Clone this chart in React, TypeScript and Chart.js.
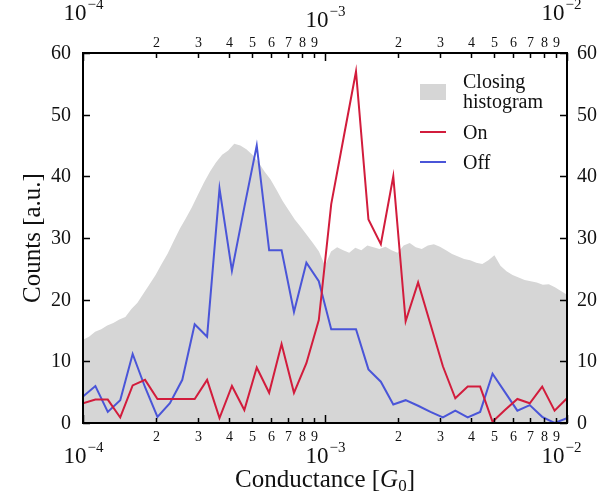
import { useEffect, useRef } from "react";
import { Chart, registerables } from "chart.js";

Chart.register(...registerables);

// Conductance sampling of the on/off traces (G0), log-spaced from 1e-4 to 1e-2
const LINE_G = [
  1.0e-4, 1.125e-4, 1.266e-4, 1.425e-4, 1.604e-4, 1.805e-4, 2.031e-4, 2.286e-4,
  2.572e-4, 2.894e-4, 3.257e-4, 3.665e-4, 4.125e-4, 4.642e-4, 5.223e-4, 5.878e-4,
  6.615e-4, 7.444e-4, 8.377e-4, 9.427e-4, 1.061e-3, 1.194e-3, 1.343e-3, 1.512e-3,
  1.701e-3, 1.915e-3, 2.154e-3, 2.425e-3, 2.728e-3, 3.07e-3, 3.455e-3, 3.888e-3,
  4.376e-3, 4.924e-3, 5.541e-3, 6.236e-3, 7.017e-3, 7.897e-3, 8.886e-3, 1.0e-2,
];

const ON_COUNTS = [
  3.2, 3.8, 3.8, 0.9, 6.1, 7.0, 3.9, 3.9, 3.9, 3.9, 7.0, 0.8, 6.0, 2.1, 9.0, 4.9,
  12.8, 4.9, 9.7, 16.7, 35.5, 46.3, 57, 33, 29, 40, 16.5, 22.8, 16, 9.2, 4.0, 5.9,
  5.9, 0.2, 2.1, 3.9, 3.2, 5.9, 2.0, 4.0,
];

const OFF_COUNTS = [
  4.3, 6.0, 1.8, 3.7, 11.2, 5.8, 1.0, 3.2, 7.0, 16.0, 14.0, 38, 24.7, 35, 45, 28,
  28, 18, 26, 23, 15.2, 15.2, 15.2, 8.7, 6.7, 3.0, 3.7, 2.8, 1.8, 0.9, 2.0, 0.9,
  1.8, 8.0, 5.0, 2.0, 2.9, 1.0, 0.0, 0.8,
];

// Closing histogram bins (40 per decade)
const HIST_G = [
  1.0e-4, 1.059e-4, 1.122e-4, 1.189e-4, 1.259e-4, 1.334e-4, 1.413e-4, 1.496e-4,
  1.585e-4, 1.679e-4, 1.778e-4, 1.884e-4, 1.995e-4, 2.113e-4, 2.239e-4, 2.371e-4,
  2.512e-4, 2.661e-4, 2.818e-4, 2.985e-4, 3.162e-4, 3.35e-4, 3.548e-4, 3.758e-4,
  3.981e-4, 4.217e-4, 4.467e-4, 4.732e-4, 5.012e-4, 5.309e-4, 5.623e-4, 5.957e-4,
  6.31e-4, 6.683e-4, 7.079e-4, 7.499e-4, 7.943e-4, 8.414e-4, 8.913e-4, 9.441e-4,
  1.0e-3, 1.059e-3, 1.122e-3, 1.189e-3, 1.259e-3, 1.334e-3, 1.413e-3, 1.496e-3,
  1.585e-3, 1.679e-3, 1.778e-3, 1.884e-3, 1.995e-3, 2.113e-3, 2.239e-3, 2.371e-3,
  2.512e-3, 2.661e-3, 2.818e-3, 2.985e-3, 3.162e-3, 3.35e-3, 3.548e-3, 3.758e-3,
  3.981e-3, 4.217e-3, 4.467e-3, 4.732e-3, 5.012e-3, 5.309e-3, 5.623e-3, 5.957e-3,
  6.31e-3, 6.683e-3, 7.079e-3, 7.499e-3, 7.943e-3, 8.414e-3, 8.913e-3, 9.441e-3,
  1.0e-2,
];

const HIST_COUNTS = [
  13.5, 14, 14.8, 15.2, 15.8, 16.2, 16.8, 17.2, 18.5, 19.5, 21, 22.5, 24, 25.8,
  27.5, 29.5, 31.5, 33.2, 35, 37, 39, 40.8, 42.3, 43.5, 44.2, 45.3, 45, 44.4, 43.5,
  42.3, 40.8, 39.5, 37.8, 36, 34.5, 33, 31.8, 30.5, 29.2, 27.8, 25.5, 27.8, 28.5,
  28, 27.6, 28.4, 28, 28.8, 28.5, 28.2, 28.6, 28, 27.6, 28.8, 29.2, 28.5, 28.2,
  28.8, 29, 28.6, 28, 27.4, 27, 26.6, 26.4, 26, 25.8, 26.4, 27.2, 25.5, 24.6, 24,
  23.6, 23.2, 23, 22.8, 22.4, 22.5, 22, 21.4, 20.8,
];

const Y_TICKS = [0, 10, 20, 30, 40, 50, 60];
const DECADES = [-4, -3, -2];
const MINOR_MULTIPLIERS = [2, 3, 4, 5, 6, 7, 8, 9];

const LEGEND_ITEMS = [
  { kind: "box", lines: ["Closing", "histogram"] },
  { kind: "line", lines: ["On"] },
  { kind: "line", lines: ["Off"] },
];

const SERIF = '"Liberation Serif", "DejaVu Serif", serif';
const HIST_COLOR = "#d6d6d6";
const ON_COLOR = "#d21c3c";
const OFF_COLOR = "#4a55d8";

// "10" with a raised negative exponent, centred as a whole on cx
function drawPower(
  ctx: CanvasRenderingContext2D,
  cx: number,
  baseline: number,
  exp: number
) {
  const base = "10";
  const sup = "\u2212" + String(Math.abs(exp));
  ctx.font = `23px ${SERIF}`;
  const wBase = ctx.measureText(base).width;
  ctx.font = `15px ${SERIF}`;
  const wSup = ctx.measureText(sup).width;
  const x0 = cx - (wBase + wSup + 1) / 2;
  ctx.textAlign = "left";
  ctx.textBaseline = "alphabetic";
  ctx.font = `23px ${SERIF}`;
  ctx.fillText(base, x0, baseline);
  ctx.font = `15px ${SERIF}`;
  ctx.fillText(sup, x0 + wBase + 1, baseline - 11);
}

const framePlugin = {
  id: "frameAxes",
  afterDatasetsDraw(chart: Chart) {
    const ctx = chart.ctx;
    const { left, right, top, bottom } = chart.chartArea;
    const xs = chart.scales.x;
    const ys = chart.scales.y;
    ctx.save();
    ctx.strokeStyle = "#000";
    ctx.fillStyle = "#111";
    ctx.lineWidth = 2;
    ctx.strokeRect(left, top, right - left, bottom - top);

    // x ticks (bottom and top, pointing inward)
    ctx.lineWidth = 1.5;
    const xTick = (v: number, len: number) => {
      const px = Math.round(xs.getPixelForValue(v)) + 0.5;
      ctx.beginPath();
      ctx.moveTo(px, bottom);
      ctx.lineTo(px, bottom - len);
      ctx.moveTo(px, top);
      ctx.lineTo(px, top + len);
      ctx.stroke();
      return px;
    };
    const topBaselines = [20, 27, 20];
    DECADES.forEach((d, i) => {
      const v = Math.pow(10, d);
      const px = xTick(v, 8);
      const cx = i === DECADES.length - 1 ? px - 6 : px;
      drawPower(ctx, cx, 463, d);
      drawPower(ctx, cx, topBaselines[i], d);
    });
    DECADES.slice(0, -1).forEach((d) => {
      MINOR_MULTIPLIERS.forEach((m) => {
        const v = m * Math.pow(10, d);
        const px = xTick(v, 5);
        ctx.font = `14px ${SERIF}`;
        ctx.textAlign = "center";
        ctx.textBaseline = "alphabetic";
        ctx.fillText(String(m), px, 441);
        ctx.fillText(String(m), px, 47);
      });
    });

    // y ticks (left and right, pointing inward)
    ctx.font = `20px ${SERIF}`;
    ctx.textBaseline = "middle";
    Y_TICKS.forEach((v) => {
      const py = Math.round(ys.getPixelForValue(v)) + 0.5;
      ctx.beginPath();
      ctx.moveTo(left, py);
      ctx.lineTo(left + 7, py);
      ctx.moveTo(right, py);
      ctx.lineTo(right - 7, py);
      ctx.stroke();
      ctx.textAlign = "right";
      ctx.fillText(String(v), left - 12, py);
      ctx.textAlign = "left";
      ctx.fillText(String(v), right + 10, py);
    });

    // legend
    const lx = 420;
    const tx = 463;
    ctx.textAlign = "left";
    ctx.textBaseline = "alphabetic";
    ctx.font = `20px ${SERIF}`;
    let y = 88;
    LEGEND_ITEMS.forEach((item, i) => {
      if (item.kind === "box") {
        ctx.fillStyle = HIST_COLOR;
        ctx.fillRect(lx, y - 4, 26, 16);
      } else {
        ctx.strokeStyle = i === 1 ? ON_COLOR : OFF_COLOR;
        ctx.lineWidth = 2;
        ctx.beginPath();
        ctx.moveTo(lx, y - 7);
        ctx.lineTo(lx + 26, y - 7);
        ctx.stroke();
      }
      ctx.fillStyle = "#111";
      item.lines.forEach((t, j) => {
        ctx.fillText(t, tx, y + j * 20);
      });
      y += item.lines.length === 2 ? 51 : 30;
    });

    // axis titles
    ctx.font = `25px ${SERIF}`;
    ctx.save();
    ctx.translate(33, (top + bottom) / 2);
    ctx.rotate(-Math.PI / 2);
    ctx.textAlign = "center";
    ctx.textBaseline = "middle";
    ctx.fillText("Counts [a.u.]", 0, 0);
    ctx.restore();

    const parts = [
      { t: "Conductance [", f: `25px ${SERIF}`, dy: 0 },
      { t: "G", f: `italic 25px ${SERIF}`, dy: 0 },
      { t: "0", f: `17px ${SERIF}`, dy: 4 },
      { t: "]", f: `25px ${SERIF}`, dy: 0 },
    ];
    let total = 0;
    parts.forEach((p) => {
      ctx.font = p.f;
      total += ctx.measureText(p.t).width;
    });
    let x = (left + right) / 2 - total / 2;
    ctx.textAlign = "left";
    ctx.textBaseline = "alphabetic";
    parts.forEach((p) => {
      ctx.font = p.f;
      ctx.fillText(p.t, x, 487 + p.dy);
      x += ctx.measureText(p.t).width;
    });
    ctx.restore();
  },
};

export default function App() {
  const canvasRef = useRef<HTMLCanvasElement | null>(null);

  useEffect(() => {
    if (!canvasRef.current) return;
    const chart = new Chart(canvasRef.current, {
      type: "line",
      data: {
        datasets: [
          {
            label: "On",
            data: LINE_G.map((g, i) => ({ x: g, y: ON_COUNTS[i] })),
            borderColor: ON_COLOR,
            borderWidth: 2,
            pointRadius: 0,
            fill: false,
            order: 0,
          },
          {
            label: "Off",
            data: LINE_G.map((g, i) => ({ x: g, y: OFF_COUNTS[i] })),
            borderColor: OFF_COLOR,
            borderWidth: 2,
            pointRadius: 0,
            fill: false,
            order: 1,
          },
          {
            label: "Closing histogram",
            data: HIST_G.map((g, i) => ({ x: g, y: HIST_COUNTS[i] })),
            borderWidth: 0,
            borderColor: HIST_COLOR,
            backgroundColor: HIST_COLOR,
            pointRadius: 0,
            fill: "origin",
            order: 2,
          },
        ],
      },
      options: {
        animation: false,
        responsive: false,
        devicePixelRatio: 1,
        layout: { padding: { left: 83, right: 37, top: 53, bottom: 75 } },
        scales: {
          x: { type: "logarithmic", min: 1e-4, max: 1e-2, display: false },
          y: { type: "linear", min: 0, max: 60, display: false },
        },
        plugins: {
          legend: { display: false },
          tooltip: { enabled: false },
        },
      },
      plugins: [framePlugin],
    });
    return () => chart.destroy();
  }, []);

  return (
    <div style={{ position: "fixed", left: 0, top: 0, width: 604, height: 498, background: "#fff" }}>
      <canvas ref={canvasRef} width={604} height={498} style={{ display: "block" }} />
    </div>
  );
}
